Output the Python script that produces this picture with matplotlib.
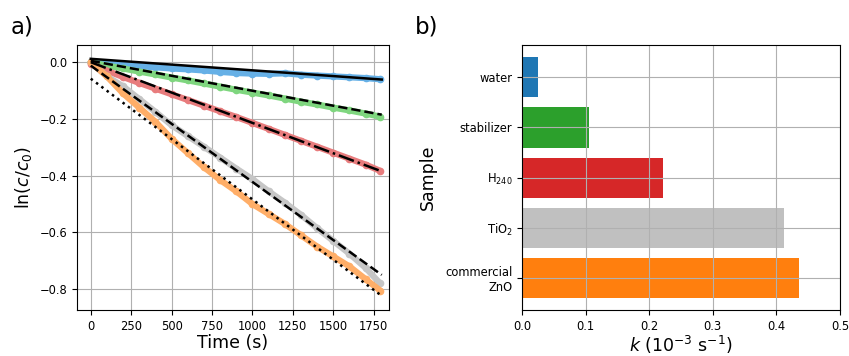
import matplotlib.pyplot as plt

# Time points (s)
time_s = [0, 100, 200, 300, 400, 500, 600, 700, 800, 900,
          1000, 1100, 1200, 1300, 1400, 1500, 1600, 1700, 1790]

# ln(c/c0)
water = [0.0, -0.006, -0.010, -0.014, -0.018, -0.022, -0.025, -0.029, -0.034, -0.038,
         -0.040, -0.041, -0.039, -0.044, -0.047, -0.050, -0.053, -0.056, -0.060]
stabilizer = [0.0, -0.012, -0.022, -0.033, -0.043, -0.054, -0.064, -0.075, -0.086, -0.097,
              -0.107, -0.117, -0.128, -0.139, -0.149, -0.160, -0.170, -0.181, -0.192]
h240 = [-0.005, -0.030, -0.052, -0.073, -0.093, -0.113, -0.133, -0.153, -0.173, -0.193,
        -0.214, -0.235, -0.256, -0.277, -0.298, -0.319, -0.340, -0.361, -0.383]
tio2 = [0.0, -0.050, -0.085, -0.130, -0.175, -0.222, -0.260, -0.298, -0.336, -0.375,
        -0.412, -0.455, -0.495, -0.538, -0.585, -0.630, -0.675, -0.725, -0.780]
zno = [0.0, -0.050, -0.110, -0.160, -0.210, -0.270, -0.320, -0.370, -0.415, -0.455,
       -0.500, -0.535, -0.570, -0.610, -0.650, -0.685, -0.720, -0.765, -0.805]

# fitted lines: value at start and end
fit_t = [0, 1800]
fit_water = [0.012, -0.061]
fit_stabilizer = [0.005, -0.185]
fit_h240 = [0.0, -0.385]
fit_tio2 = [-0.012, -0.750]
fit_zno = [-0.058, -0.824]

# rate constants (10^-3 s^-1)
samples = ['commercial\nZnO', r'TiO$_2$', r'H$_{240}$', 'stabilizer', 'water']
k_values = [0.436, 0.412, 0.222, 0.105, 0.025]
bar_colors = ['tab:orange', 'silver', 'tab:red', 'tab:green', 'tab:blue']

fig = plt.figure(figsize=(8.49, 3.56), dpi=100)
ax1 = fig.add_axes([0.0907, 0.129, 0.3675, 0.744])
ax2 = fig.add_axes([0.6148, 0.129, 0.3746, 0.744])

# Panel a
band = dict(lw=4.5, marker='o', ms=4.5, solid_capstyle='round')
ax1.plot(time_s, water, color='#66b0e6', **band)
ax1.plot(time_s, stabilizer, color='#7fd67f', **band)
ax1.plot(time_s, h240, color='#e87c7d', **band)
ax1.plot(time_s, tio2, color='#c6c6c6', **band)
ax1.plot(time_s, zno, color='#ffae68', **band)

ax1.plot(fit_t, fit_water, color='black', ls='-', lw=1.8)
ax1.plot(fit_t, fit_stabilizer, color='black', ls='--', lw=1.8)
ax1.plot(fit_t, fit_h240, color='black', ls='-.', lw=1.8)
ax1.plot(fit_t, fit_tio2, color='black', ls='--', lw=1.8)
ax1.plot(fit_t, fit_zno, color='black', ls=':', lw=1.8)

ax1.set_xlim(-85, 1845)
ax1.set_ylim(-0.874, 0.06)
ax1.set_xticks([0, 250, 500, 750, 1000, 1250, 1500, 1750])
ax1.set_yticks([0.0, -0.2, -0.4, -0.6, -0.8])
ax1.grid(True, color='#b0b0b0')
ax1.tick_params(labelsize=8.3)
ax1.set_xlabel('Time (s)', fontsize=12.5, labelpad=1)
ax1.set_ylabel(r'ln($c/c_0$)', fontsize=12.5)

# Panel b
ax2.barh(samples, k_values, height=0.8, color=bar_colors)
ax2.set_xlim(0, 0.5)
ax2.grid(True, color='#b0b0b0')
ax2.tick_params(labelsize=8.3)
ax2.set_xlabel(r'$k$ ($10^{-3}$ s$^{-1}$)', fontsize=12.5, labelpad=1)
ax2.set_ylabel('Sample', fontsize=12.5, labelpad=6)

fig.text(0.012, 0.907, 'a)', fontsize=16.5)
fig.text(0.489, 0.907, 'b)', fontsize=16.5)

fig.savefig('out.png', dpi=100)
